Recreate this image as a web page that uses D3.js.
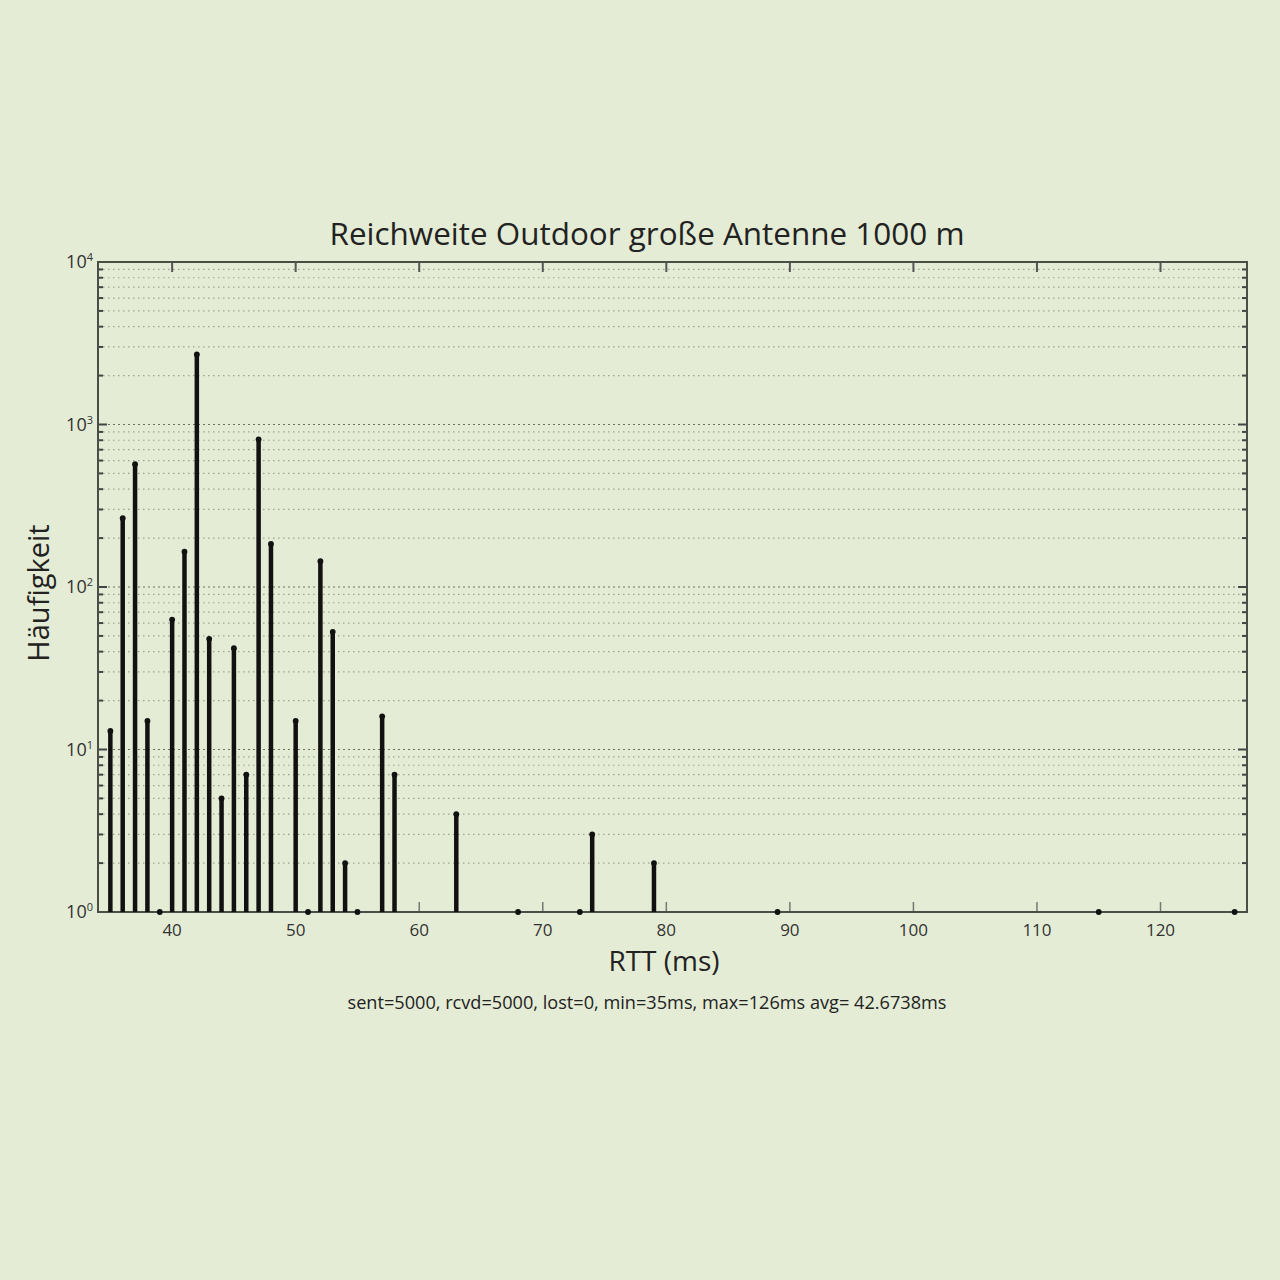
<!DOCTYPE html>
<html><head><meta charset="utf-8">
<script src="https://cdn.jsdelivr.net/npm/d3@7"></script>
<style>html,body{margin:0;padding:0;background:#e4ecd5;}</style>
</head><body>
<script>
// ---- data ----
const rttMs  = [35,36,37,38,39,40,41,42,43,44,45,46,47,48,50,51,52,53,54,55,57,58,63,68,73,74,79,89,115,126];
const counts = [13,265,570,15,1,63,165,2700,48,5,42,7,810,184,15,1,144,53,2,1,16,7,4,1,1,3,2,1,1,1];
const xTicks = [40,50,60,70,80,90,100,110,120];
const yExps  = [0,1,2,3,4];
const titleText = "Reichweite Outdoor große Antenne 1000 m";
const xLabel = "RTT (ms)";
const yLabel = "Häufigkeit";
const footer = "sent=5000, rcvd=5000, lost=0, min=35ms, max=126ms avg= 42.6738ms";

const W = 1280, H = 1280;
const L = 98, R = 1247, T = 262, B = 912;
const svg = d3.select("body").append("svg").attr("width", W).attr("height", H)
  .style("font-family", "'Open Sans', sans-serif");
svg.append("rect").attr("width", W).attr("height", H).attr("fill", "#e4ecd5");

const x = d3.scaleLinear().domain([34, 127]).range([L, R]);
const y = d3.scaleLog().domain([1, 10000]).range([B, T]);

// grid values (minor + major)
const gridVals = [];
yExps.forEach(k => { for (let m = 1; m <= 9; m++) { const v = m * Math.pow(10, k); if (v <= 10000) gridVals.push({v, major: m === 1}); } });

const g = svg.append("g");
g.selectAll("line.grid").data(gridVals.filter(d => d.v > 1 && d.v < 10000)).join("line")
  .attr("class", "grid")
  .attr("x1", L).attr("x2", R)
  .attr("y1", d => y(d.v)).attr("y2", d => y(d.v))
  .attr("stroke", d => d.major ? "#666b5e" : "#858a7c")
  .attr("stroke-width", 1.2)
  .attr("stroke-dasharray", d => d.major ? "2,3" : "1.5,3.5")
  .attr("opacity", d => d.major ? 0.95 : 0.75);

// y minor/major ticks left & right
g.selectAll("line.ytl").data(gridVals).join("line").attr("class", "ytl")
  .attr("x1", L).attr("x2", d => L + (d.major ? 9 : 5))
  .attr("y1", d => y(d.v)).attr("y2", d => y(d.v))
  .attr("stroke", "#444").attr("stroke-width", 2);
g.selectAll("line.ytr").data(gridVals).join("line").attr("class", "ytr")
  .attr("x1", R).attr("x2", d => R - (d.major ? 9 : 5))
  .attr("y1", d => y(d.v)).attr("y2", d => y(d.v))
  .attr("stroke", "#444").attr("stroke-width", 2);

// x ticks top & bottom
g.selectAll("line.xtb").data(xTicks).join("line").attr("class", "xtb")
  .attr("x1", d => x(d)).attr("x2", d => x(d)).attr("y1", B).attr("y2", B - 10)
  .attr("stroke", "#777").attr("stroke-width", 1.5);
g.selectAll("line.xtt").data(xTicks).join("line").attr("class", "xtt")
  .attr("x1", d => x(d)).attr("x2", d => x(d)).attr("y1", T).attr("y2", T + 10)
  .attr("stroke", "#555").attr("stroke-width", 2);

// box
g.append("rect").attr("x", L).attr("y", T).attr("width", R - L).attr("height", B - T)
  .attr("fill", "none").attr("stroke", "#4a4f45").attr("stroke-width", 2);

// stems
const data = rttMs.map((r, i) => ({r, c: counts[i]}));
g.selectAll("line.stem").data(data).join("line").attr("class", "stem")
  .attr("x1", d => x(d.r)).attr("x2", d => x(d.r))
  .attr("y1", y(1)).attr("y2", d => y(d.c))
  .attr("stroke", "#111").attr("stroke-width", 4.5);
g.selectAll("circle.mk").data(data).join("circle").attr("class", "mk")
  .attr("cx", d => x(d.r)).attr("cy", d => y(d.c)).attr("r", 2.9).attr("fill", "#111");

// x tick labels
g.selectAll("text.xl").data(xTicks).join("text").attr("class", "xl")
  .attr("x", d => x(d)).attr("y", 936).attr("text-anchor", "middle")
  .attr("font-size", 17).attr("fill", "#333").text(d => d);

// y tick labels 10^k
const yl = g.selectAll("text.yl").data(yExps).join("text").attr("class", "yl")
  .attr("x", 93).attr("y", d => y(Math.pow(10, d)) + 6).attr("text-anchor", "end")
  .attr("fill", "#333");
yl.append("tspan").attr("font-size", 18).text("10");
yl.append("tspan").attr("font-size", 11).attr("dy", -7).text(d => d);

// title
svg.append("text").attr("x", 647).attr("y", 245).attr("text-anchor", "middle")
  .attr("font-size", 31).attr("fill", "#222")
  .attr("textLength", 635).attr("lengthAdjust", "spacingAndGlyphs").text(titleText);
// x label
svg.append("text").attr("x", 664).attr("y", 971).attr("text-anchor", "middle")
  .attr("font-size", 28).attr("fill", "#222").text(xLabel);
// y label
svg.append("text").attr("transform", "translate(49,593) rotate(-90)").attr("text-anchor", "middle")
  .attr("font-size", 29).attr("fill", "#222").text(yLabel);
// footer
svg.append("text").attr("x", 647).attr("y", 1009).attr("text-anchor", "middle")
  .attr("font-size", 18).attr("fill", "#222")
  .attr("textLength", 599).attr("lengthAdjust", "spacingAndGlyphs").text(footer);
</script>
</body></html>
